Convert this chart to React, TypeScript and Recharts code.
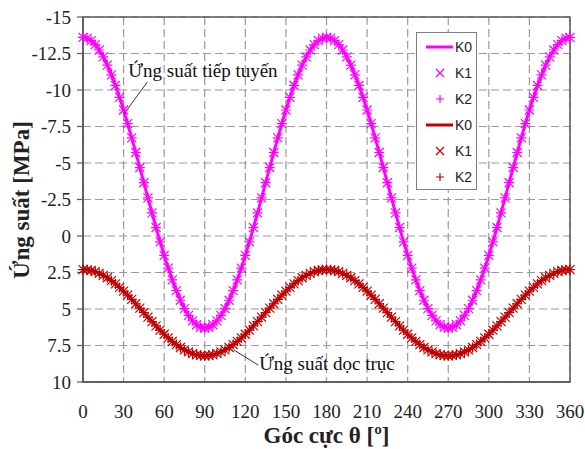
import {
  ComposedChart,
  Line,
  XAxis,
  YAxis,
  CartesianGrid,
  ReferenceArea,
  ReferenceLine,
  ReferenceDot,
} from 'recharts';

// polar angle θ in degrees
const THETA = [
  0, 3, 6, 9, 12, 15, 18, 21, 24, 27, 30, 33, 36, 39, 42, 45, 48, 51, 54, 57,
  60, 63, 66, 69, 72, 75, 78, 81, 84, 87, 90, 93, 96, 99, 102, 105, 108, 111,
  114, 117, 120, 123, 126, 129, 132, 135, 138, 141, 144, 147, 150, 153, 156,
  159, 162, 165, 168, 171, 174, 177, 180, 183, 186, 189, 192, 195, 198, 201,
  204, 207, 210, 213, 216, 219, 222, 225, 228, 231, 234, 237, 240, 243, 246,
  249, 252, 255, 258, 261, 264, 267, 270, 273, 276, 279, 282, 285, 288, 291,
  294, 297, 300, 303, 306, 309, 312, 315, 318, 321, 324, 327, 330, 333, 336,
  339, 342, 345, 348, 351, 354, 357, 360,
];

// tangential stress (ứng suất tiếp tuyến), MPa
const TANGENTIAL = [
  -13.6, -13.55, -13.38, -13.11, -12.74, -12.27, -11.7, -11.04, -10.31, -9.5,
  -8.63, -7.7, -6.72, -5.72, -4.69, -3.65, -2.61, -1.58, -0.58, 0.4, 1.33, 2.2,
  3.01, 3.74, 4.4, 4.97, 5.44, 5.81, 6.08, 6.25, 6.3,
  6.25, 6.08, 5.81, 5.44, 4.97, 4.4, 3.74, 3.01, 2.2, 1.33, 0.4, -0.58, -1.58,
  -2.61, -3.65, -4.69, -5.72, -6.72, -7.7, -8.63, -9.5, -10.31, -11.04, -11.7,
  -12.27, -12.74, -13.11, -13.38, -13.55, -13.6,
  -13.55, -13.38, -13.11, -12.74, -12.27, -11.7, -11.04, -10.31, -9.5, -8.63,
  -7.7, -6.72, -5.72, -4.69, -3.65, -2.61, -1.58, -0.58, 0.4, 1.33, 2.2, 3.01,
  3.74, 4.4, 4.97, 5.44, 5.81, 6.08, 6.25, 6.3,
  6.25, 6.08, 5.81, 5.44, 4.97, 4.4, 3.74, 3.01, 2.2, 1.33, 0.4, -0.58, -1.58,
  -2.61, -3.65, -4.69, -5.72, -6.72, -7.7, -8.63, -9.5, -10.31, -11.04, -11.7,
  -12.27, -12.74, -13.11, -13.38, -13.55, -13.6,
];

// axial stress (ứng suất dọc trục), MPa
const AXIAL = [
  2.3, 2.32, 2.36, 2.44, 2.56, 2.7, 2.86, 3.06, 3.28, 3.52, 3.78, 4.05, 4.34,
  4.64, 4.94, 5.25, 5.56, 5.86, 6.16, 6.45, 6.73, 6.98, 7.22, 7.44, 7.64, 7.8,
  7.94, 8.06, 8.14, 8.18, 8.2,
  8.18, 8.14, 8.06, 7.94, 7.8, 7.64, 7.44, 7.22, 6.98, 6.73, 6.45, 6.16, 5.86,
  5.56, 5.25, 4.94, 4.64, 4.34, 4.05, 3.78, 3.52, 3.28, 3.06, 2.86, 2.7, 2.56,
  2.44, 2.36, 2.32, 2.3,
  2.32, 2.36, 2.44, 2.56, 2.7, 2.86, 3.06, 3.28, 3.52, 3.78, 4.05, 4.34, 4.64,
  4.94, 5.25, 5.56, 5.86, 6.16, 6.45, 6.73, 6.98, 7.22, 7.44, 7.64, 7.8, 7.94,
  8.06, 8.14, 8.18, 8.2,
  8.18, 8.14, 8.06, 7.94, 7.8, 7.64, 7.44, 7.22, 6.98, 6.73, 6.45, 6.16, 5.86,
  5.56, 5.25, 4.94, 4.64, 4.34, 4.05, 3.78, 3.52, 3.28, 3.06, 2.86, 2.7, 2.56,
  2.44, 2.36, 2.32, 2.3,
];

const X_TICKS = [0, 30, 60, 90, 120, 150, 180, 210, 240, 270, 300, 330, 360];
const Y_TICKS = [-15, -12.5, -10, -7.5, -5, -2.5, 0, 2.5, 5, 7.5, 10];
const SERIES_NAMES = ['K0', 'K1', 'K2'];

const MAGENTA = '#FF00FF';
const DARK_RED = '#C00000';
const AXIS_GRAY = '#595959';
const GRID_GRAY = '#9A9A9A';
const SERIF = '"Liberation Serif", "Times New Roman", serif';

const data = THETA.map((theta, i) => ({
  theta,
  tangential: TANGENTIAL[i],
  axial: AXIAL[i],
}));

type Marker = 'x' | '+';

function markerPath(kind: Marker, cx: number, cy: number, s: number) {
  if (kind === 'x') {
    return `M${cx - s},${cy - s}L${cx + s},${cy + s}M${cx - s},${cy + s}L${cx + s},${cy - s}`;
  }
  return `M${cx - s},${cy}L${cx + s},${cy}M${cx},${cy - s}L${cx},${cy + s}`;
}

function makeDot(kind: Marker, color: string, size: number) {
  return (props: any) => {
    const { cx, cy, index } = props;
    if (cx == null || cy == null) return <g key={`${kind}-${index}`} />;
    return (
      <path
        key={`${kind}-${index}`}
        d={markerPath(kind, cx, cy, size)}
        stroke={color}
        strokeWidth={1.2}
        fill="none"
      />
    );
  };
}

function Legend() {
  const rows = [
    { color: MAGENTA, kind: 'line' },
    { color: MAGENTA, kind: 'x' },
    { color: MAGENTA, kind: '+' },
    { color: DARK_RED, kind: 'line' },
    { color: DARK_RED, kind: 'x' },
    { color: DARK_RED, kind: '+' },
  ];
  return (
    <svg
      width={62}
      height={160}
      style={{ position: 'absolute', left: 416, top: 32 }}
    >
      <rect x={0.5} y={0.5} width={60} height={157} fill="#fff" stroke="#7F7F7F" />
      {rows.map((r, i) => {
        const cy = 15 + i * 26;
        return (
          <g key={i}>
            {r.kind === 'line' ? (
              <line x1={10} x2={37} y1={cy} y2={cy} stroke={r.color} strokeWidth={3} />
            ) : (
              <path
                d={markerPath(r.kind as Marker, 24, cy, 4)}
                stroke={r.color}
                strokeWidth={1.2}
                fill="none"
              />
            )}
            <text
              x={39}
              y={cy + 5}
              fontFamily='"Liberation Sans", Arial, sans-serif'
              fontSize={14}
              fill="#222"
            >
              {SERIES_NAMES[i % 3]}
            </text>
          </g>
        );
      })}
    </svg>
  );
}

const noteText = (label: string) => (p: any) => (
  <text x={p.cx} y={p.cy} fontFamily={SERIF} fontSize={19} fill="#111">
    {label}
  </text>
);

export default function App() {
  return (
    <div
      style={{
        position: 'absolute',
        left: 0,
        top: 0,
        width: 585,
        height: 449,
        background: '#fff',
      }}
    >
      <ComposedChart
        width={585}
        height={449}
        data={data}
        margin={{ top: 17, right: 15, bottom: 0, left: 0 }}
      >
        <CartesianGrid
          stroke={GRID_GRAY}
          strokeDasharray="8 4"
          strokeWidth={1.2}
        />
        <XAxis
          dataKey="theta"
          type="number"
          domain={[0, 360]}
          ticks={X_TICKS}
          height={67}
          tickLine={false}
          tickMargin={17}
          axisLine={{ stroke: AXIS_GRAY, strokeWidth: 1.5 }}
          tick={{ fontFamily: SERIF, fontSize: 19, fill: '#222' }}
          interval={0}
          label={{
            value: 'Góc cực θ [º]',
            position: 'insideBottom',
            offset: 6,
            style: {
              fontFamily: SERIF,
              fontSize: 23,
              fontWeight: 'bold',
              fill: '#222',
            },
          }}
        />
        <YAxis
          type="number"
          domain={[-15, 10]}
          ticks={Y_TICKS}
          reversed
          width={83}
          tickSize={6}
          tickMargin={6}
          interval={0}
          tickLine={{ stroke: AXIS_GRAY, strokeWidth: 1.2 }}
          axisLine={{ stroke: AXIS_GRAY, strokeWidth: 1.5 }}
          tick={{ fontFamily: SERIF, fontSize: 19, fill: '#222' }}
          label={() => (
            <text
              transform="translate(29,200) rotate(-90)"
              textAnchor="middle"
              fontFamily={SERIF}
              fontSize={23}
              fontWeight="bold"
              fill="#222"
            >
              Ứng suất [MPa]
            </text>
          )}
        />
        <ReferenceArea
          x1={0}
          x2={360}
          y1={-15}
          y2={10}
          fill="none"
          fillOpacity={0}
          stroke={AXIS_GRAY}
          strokeWidth={1.5}
        />

        <Line
          dataKey="axial"
          stroke={DARK_RED}
          strokeWidth={3}
          dot={false}
          activeDot={false}
          isAnimationActive={false}
        />
        <Line
          dataKey="axial"
          stroke="none"
          dot={makeDot('x', DARK_RED, 4.5)}
          activeDot={false}
          isAnimationActive={false}
        />
        <Line
          dataKey="axial"
          stroke="none"
          dot={makeDot('+', DARK_RED, 5)}
          activeDot={false}
          isAnimationActive={false}
        />
        <Line
          dataKey="tangential"
          stroke={MAGENTA}
          strokeWidth={3}
          dot={false}
          activeDot={false}
          isAnimationActive={false}
        />
        <Line
          dataKey="tangential"
          stroke="none"
          dot={makeDot('x', MAGENTA, 4.5)}
          activeDot={false}
          isAnimationActive={false}
        />
        <Line
          dataKey="tangential"
          stroke="none"
          dot={makeDot('+', MAGENTA, 5)}
          activeDot={false}
          isAnimationActive={false}
        />

        <ReferenceLine
          segment={[
            { x: 47.6, y: -10.55 },
            { x: 29.8, y: -8.3 },
          ]}
          stroke="#333"
          strokeWidth={1}
        />
        <ReferenceDot x={33.5} y={-10.9} r={0} shape={noteText('Ứng suất tiếp tuyến')} />
        <ReferenceLine
          segment={[
            { x: 111.6, y: 7.81 },
            { x: 129.5, y: 8.84 },
          ]}
          stroke="#333"
          strokeWidth={1}
        />
        <ReferenceDot x={130.2} y={9.18} r={0} shape={noteText('Ứng suất dọc trục')} />
      </ComposedChart>
      <Legend />
    </div>
  );
}
